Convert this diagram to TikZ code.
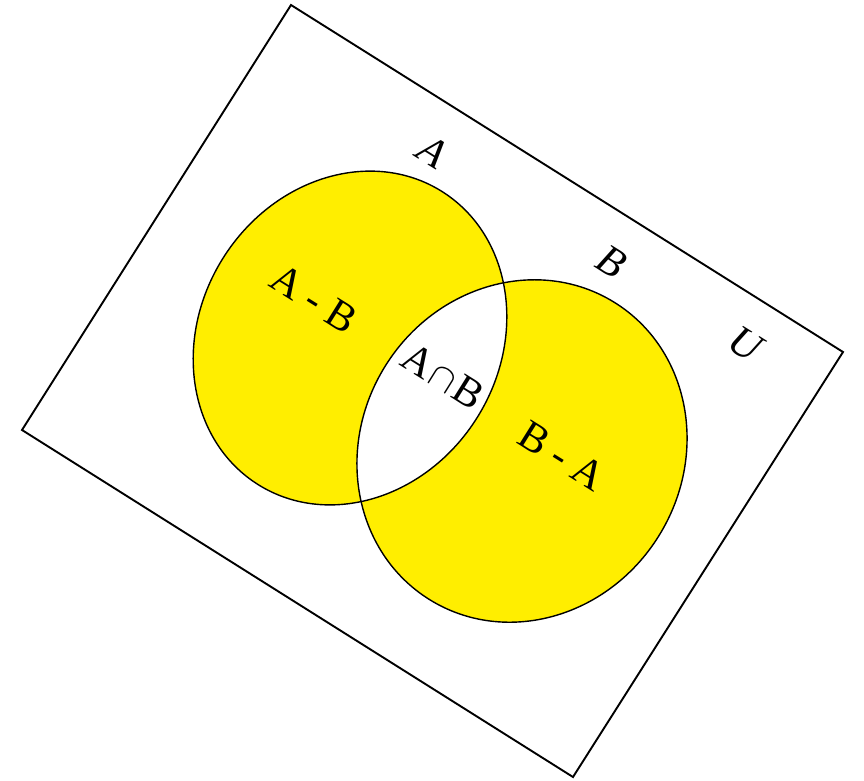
\documentclass[tikz,border=0pt]{standalone}
\usepackage{fontspec}
\usepackage{graphicx}
\setmainfont{Liberation Serif}
\begin{document}
\begin{tikzpicture}[x=1pt,y=-1pt,
  lab/.style={rotate=-32, font=\fontsize{42}{46}\selectfont, inner sep=0pt},
  setline/.style={line width=1.4pt, black},
  frame/.style={line width=1.9pt, black},
  ella/.style={rotate around={-32:(ca)}},
  ellb/.style={rotate around={-32:(cb)}}]
\definecolor{venyellow}{RGB}{255,238,0}
\useasboundingbox (0,0) rectangle (864,781);
\fill[white] (0,0) rectangle (864,781);
\coordinate (tl) at (291,5);
\coordinate (tr) at (843,352);
\coordinate (br) at (573,777);
\coordinate (bl) at (22,430);
\coordinate (ca) at (350,338);
\coordinate (cb) at (522,451);
\draw[frame] (tl) -- (tr) -- (br) -- (bl) -- cycle;
\fill[venyellow, ella] (ca) ellipse [x radius=150, y radius=173];
\fill[venyellow, ellb] (cb) ellipse [x radius=161, y radius=175];
\begin{scope}
  \clip[ella] (ca) ellipse [x radius=150, y radius=173];
  \fill[white, ellb] (cb) ellipse [x radius=161, y radius=175];
\end{scope}
\draw[setline, ella] (ca) ellipse [x radius=150, y radius=173];
\draw[setline, ellb] (cb) ellipse [x radius=161, y radius=175];
\node[lab] (la) at (433,152) {\textit{A}};
\node[lab] (lb) at (612,262) {\textit{B}};
\node[lab] (lu) at (746,345) {\textit{U}};
\node[lab] (lamb) at (314,299) {A - B};
\node[lab] (lint) at (443,376) {A\hspace{0.06em}\raisebox{0.02em}{\scalebox{1.5}{$\cap$}}\hspace{0.06em}B};
\node[lab] (lbma) at (562,456) {B - A};
\end{tikzpicture}
\end{document}
